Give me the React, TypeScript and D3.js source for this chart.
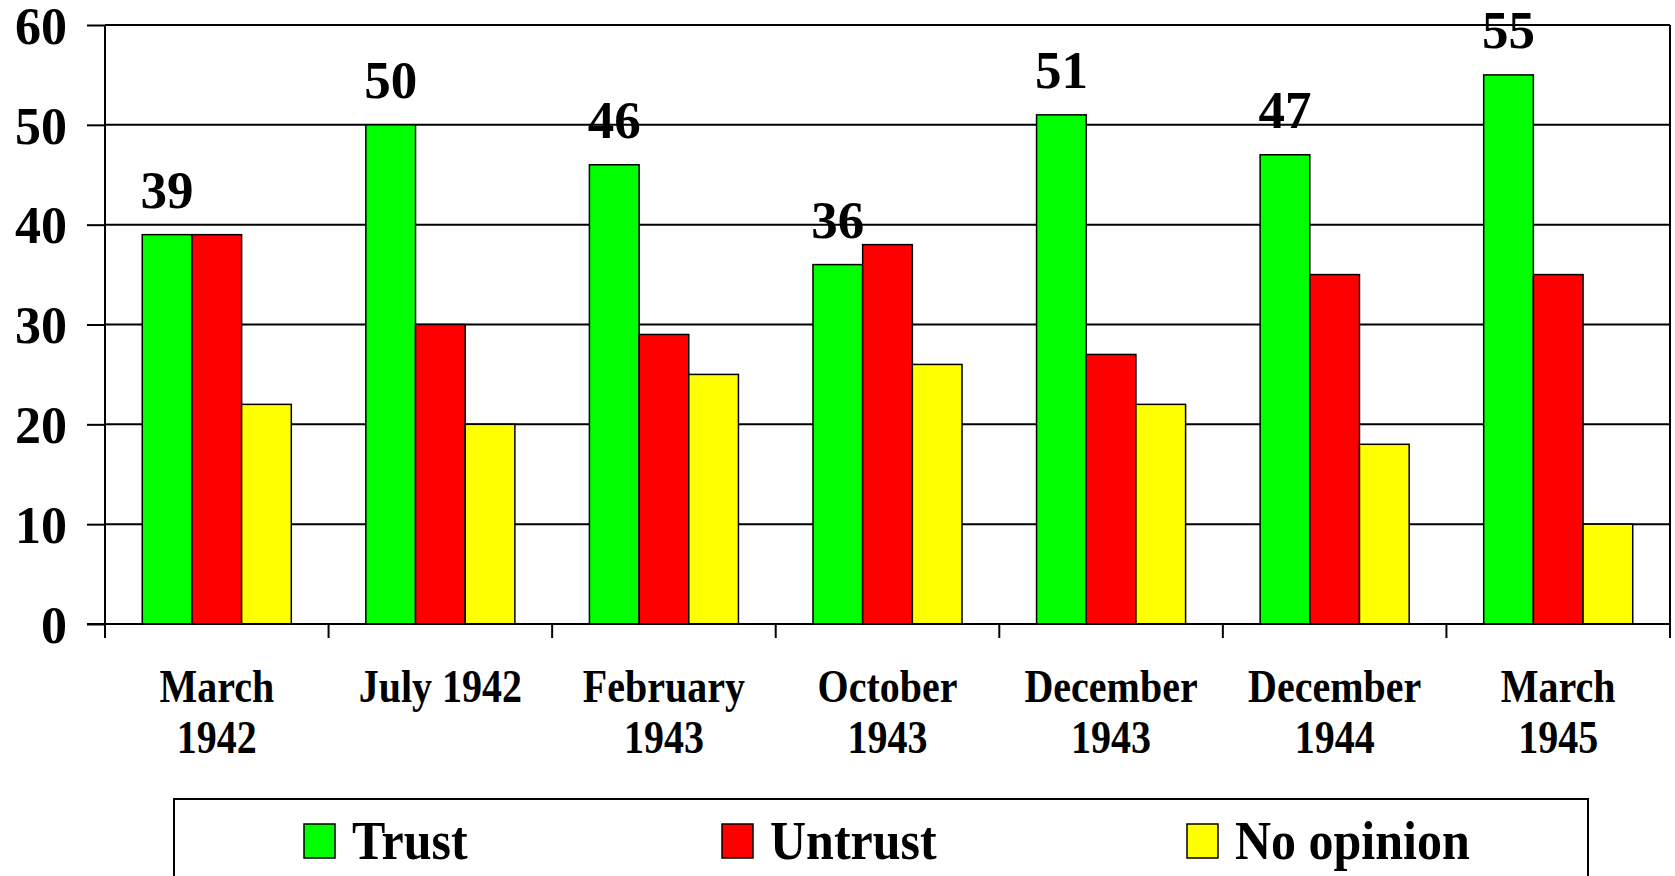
import React, { useEffect, useRef } from 'react';
import { axisBottom, axisLeft, scaleBand, scaleLinear, select } from 'd3';

const categories = ['March 1942', 'July 1942', 'February 1943', 'October 1943', 'December 1943', 'December 1944', 'March 1945'];
const categoryLines = [['March', '1942'], ['July 1942'], ['February', '1943'], ['October', '1943'], ['December', '1943'], ['December', '1944'], ['March', '1945']];
const trust = [39, 50, 46, 36, 51, 47, 55];
const untrust = [39, 30, 29, 38, 27, 35, 35];
const noOpinion = [22, 20, 25, 26, 22, 18, 10];
const seriesNames = ['Trust', 'Untrust', 'No opinion'];
const seriesColors = ['#00ff00', '#ff0000', '#ffff00'];
const yTicks = [0, 10, 20, 30, 40, 50, 60];

function App() {
    const svgRef = useRef(null);
    const width = 1675;
    const height = 876;
    const left = 105;
    const right = 1670;
    const top = 25;
    const bottom = 624;
    const font = '"Liberation Serif", "Times New Roman", serif';

    useEffect(() => {
        const svg = select(svgRef.current);
        svg.selectAll('*').remove();

        const x = scaleBand().domain(categories).range([left, right]).padding(0);
        const inner = scaleBand().domain(seriesNames).range([0, x.bandwidth()]).paddingInner(0).paddingOuter(0.75);
        const y = scaleLinear().domain([0, 60]).range([bottom, top]);

        // gridlines
        svg.append('g')
            .selectAll('line')
            .data(yTicks.slice(1))
            .join('line')
            .attr('x1', left)
            .attr('x2', right)
            .attr('y1', d => y(d))
            .attr('y2', d => y(d))
            .attr('stroke', '#000')
            .attr('stroke-width', 2);

        // right border
        svg.append('line')
            .attr('x1', right).attr('x2', right)
            .attr('y1', top).attr('y2', bottom)
            .attr('stroke', '#000').attr('stroke-width', 2);

        const allSeries = [trust, untrust, noOpinion];
        allSeries.forEach((vals, si) => {
            svg.append('g')
                .selectAll('rect')
                .data(vals)
                .join('rect')
                .attr('x', (d, i) => x(categories[i]) + inner(seriesNames[si]))
                .attr('y', d => y(d))
                .attr('width', inner.bandwidth())
                .attr('height', d => bottom - y(d))
                .attr('fill', seriesColors[si])
                .attr('stroke', '#000')
                .attr('stroke-width', 1.5);
        });

        // value labels on trust bars
        svg.append('g')
            .selectAll('text')
            .data(trust)
            .join('text')
            .attr('x', (d, i) => x(categories[i]) + inner('Trust') + inner.bandwidth() / 2)
            .attr('y', d => y(d) - 27)
            .attr('text-anchor', 'middle')
            .attr('font-family', font)
            .attr('font-weight', 'bold')
            .attr('font-size', 53)
            .text(d => d);

        // y axis
        const yAxis = axisLeft(y).tickValues(yTicks).tickSize(18).tickPadding(20).tickFormat(d => `${d}`);
        const yg = svg.append('g').attr('transform', `translate(${left},0)`).call(yAxis);
        yg.select('.domain').attr('stroke', '#000').attr('stroke-width', 2).attr('d', `M0,${top}V${bottom}`);
        yg.selectAll('.tick line').attr('stroke', '#000').attr('stroke-width', 2);
        yg.selectAll('.tick text')
            .attr('font-family', font)
            .attr('font-weight', 'bold')
            .attr('font-size', 52)
            .attr('fill', '#000')
            .attr('dy', '0.35em');

        // x axis
        const xAxis = axisBottom(x).tickSize(0).tickFormat(() => '');
        const xg = svg.append('g').attr('transform', `translate(0,${bottom})`).call(xAxis);
        xg.select('.domain').attr('stroke', '#000').attr('stroke-width', 2).attr('d', `M${left - 18},0H${right}`);
        xg.selectAll('.tick').remove();
        const boundaries = categories.map(c => x(c)).concat([right]);
        xg.selectAll('line.sep')
            .data(boundaries)
            .join('line')
            .attr('class', 'sep')
            .attr('x1', d => d).attr('x2', d => d)
            .attr('y1', 0).attr('y2', 14)
            .attr('stroke', '#000').attr('stroke-width', 2);

        const labels = svg.append('g')
            .selectAll('text')
            .data(categoryLines)
            .join('text')
            .attr('text-anchor', 'middle')
            .attr('font-family', font)
            .attr('font-weight', 'bold')
            .attr('font-size', 40)
            .attr('transform', (d, i) => `translate(${x(categories[i]) + x.bandwidth() / 2},702) scale(1,1.18)`);
        labels.selectAll('tspan')
            .data(d => d)
            .join('tspan')
            .attr('x', 0)
            .attr('y', (d, j) => j * 43.5)
            .text(d => d);

        // legend
        svg.append('rect')
            .attr('x', 174).attr('y', 799)
            .attr('width', 1414).attr('height', 120)
            .attr('fill', '#fff').attr('stroke', '#000').attr('stroke-width', 2);
        const legendX = [304, 722, 1187];
        seriesNames.forEach((name, i) => {
            svg.append('rect')
                .attr('x', legendX[i]).attr('y', 824)
                .attr('width', 31).attr('height', 34)
                .attr('fill', seriesColors[i]).attr('stroke', '#000').attr('stroke-width', 1.5);
            svg.append('text')
                .attr('transform', `translate(${legendX[i] + 48},859) scale(1,1.08)`)
                .attr('font-family', font)
                .attr('font-weight', 'bold')
                .attr('font-size', 50)
                .text(name);
        });
    }, []);

    return (
        <svg ref={svgRef} width={width} height={height}
            style={{ position: 'absolute', left: 0, top: 0, background: '#fff' }}></svg>
    );
}

export default App;
